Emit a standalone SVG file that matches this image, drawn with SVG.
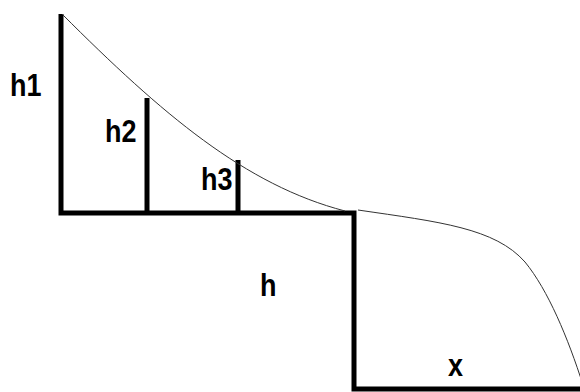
<svg xmlns="http://www.w3.org/2000/svg" width="580" height="392" viewBox="0 0 580 392">
<style>
.thick{fill:none;stroke:#000;stroke-width:5;stroke-linejoin:miter}
.curve{fill:none;stroke:#333;stroke-width:1}
.lbl{font-family:"Liberation Sans",Arial,sans-serif;font-weight:bold;font-size:27px;fill:#000}
</style>
<rect width="580" height="392" fill="#fff"/>
<g id="connectors">
<path class="thick" d="M61,14 L61,213 L354,213 L354,389 L582,389"/>
<path class="thick" d="M147,98 L147,215"/>
<path class="thick" d="M238,160 L238,215"/>
<path class="curve" d="M62,14 C162,114 245,185 345,211"/>
<path class="curve" d="M358,210 C440,222 495,228 525,262 C548,290 568,338 583,385"/>
</g>
<g id="h1"><text class="lbl" transform="translate(10,96) scale(1,1.18)">h1</text></g>
<g id="h2"><text class="lbl" transform="translate(105,142) scale(1,1.18)">h2</text></g>
<g id="h3"><text class="lbl" transform="translate(201,190) scale(1,1.18)">h3</text></g>
<g id="h"><text class="lbl" transform="translate(260,296) scale(1,1.18)">h</text></g>
<g id="x"><text class="lbl" transform="translate(448,376) scale(1,1.18)">x</text></g>
</svg>
